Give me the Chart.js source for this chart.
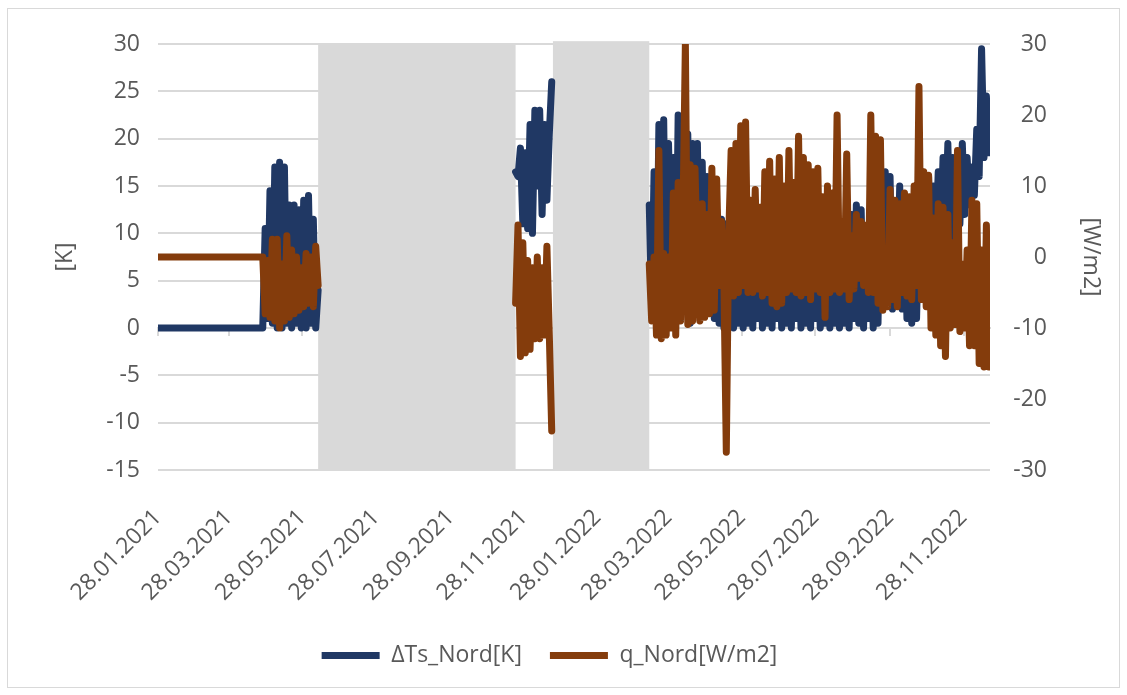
<!DOCTYPE html>
<html>
<head>
<meta charset="utf-8">
<script src="https://cdn.jsdelivr.net/npm/chart.js@4.4.0/dist/chart.umd.min.js"></script>
<style>
  html, body { margin: 0; padding: 0; background: #fff; }
  #wrap { position: relative; width: 1127px; height: 695px; }
  #frame { position: absolute; left: 7px; top: 8px; width: 1113px; height: 680px; border: 1px solid #d9d9d9; box-sizing: border-box; }
  #myChart { position: absolute; left: 0; top: 0; }
</style>
</head>
<body>
<div id="wrap"><div id="frame"></div><canvas id="myChart" width="1127" height="695"></canvas></div>
<script>
// days are counted from 28.01.2021
var X_MAX = 691;
var tickDates = ['28.01.2021', '28.03.2021', '28.05.2021', '28.07.2021', '28.09.2021', '28.11.2021',
                 '28.01.2022', '28.03.2022', '28.05.2022', '28.07.2022', '28.09.2022', '28.11.2022'];

// measured stretches: first day and spacing in days
var segStart = [0, 87, 297, 408];
var segStep = [87, 2, 2, 2];

var dtNord = [
  [0],
  [0, 10.5, 1, 14.5, 0.5, 17, 0, 17.5, 0, 17, 0.5, 13, 0, 13, 0.5, 12.5, 0, 13.5, 0, 14, 0.5, 11.5, 0, 4],
  [16.5, 16, 19, 11, 18.5, 10.5, 21.5, 10, 23, 15, 23, 12, 21.5, 13.5, 20.5, 26],
  [13, 2, 16.5, 1, 21.5, 3, 22, 1, 19.5, 8,
   18, 2, 22.5, 1, 21.5, 3, 20.5, 0.5, 19.5, 1.5,
   19.5, 2, 17.5, 1.5, 16, 2, 14.5, 1, 12.5, 0.5,
   11.5, 0, 11, 0.5, 9, 0, 10, 0.5, 12, 0,
   13.5, 0.5, 13, 0, 9, 1, 10, 0, 11, 0.5,
   8, 0, 10, 1, 9, 0, 11, 0.5, 8, 0,
   10, 1, 12, 0, 9, 0.5, 10, 0, 11, 1,
   9, 0, 8, 0.5, 10, 0, 11, 0.5, 9, 0,
   10, 0.5, 11, 0, 12, 1, 13, 0.5, 12.5, 0,
   10.5, 1, 9, 0, 10, 0.5, 14, 2.5, 16.5, 3,
   16, 2, 13, 2.5, 15, 2, 14, 1, 12, 0.5,
   13, 1, 11, 3, 14, 5, 16, 7, 15, 9,
   16.5, 10, 18, 11, 19.5, 9, 18, 12, 17.5, 11,
   19.5, 12, 18, 13, 17, 14, 21, 16, 29.5, 18,
   24.5, 18.5]
];

var qNord = [
  [0],
  [0, -8, -0.5, -8.5, 2.5, -9, 2.5, -10, -1, -9, 3, -8.5, 1, -8, 0, -7.5, -1.5, -7, 0.5, -6.5, 0, -7, 1.5, -4],
  [-6.5, 4.5, -14, 2, -13.5, -0.5, -13, -1.5, -11.5, 0, -11.5, -1.5, -11, 1.5, -11, -24.5],
  [-1, -9, 0, -11, 15, -11.5, 0.5, -11, 0, -10,
   9, -11, 10.5, -9, 6, 30, -9.5, 13, -9, 12.5,
   -1, -9, 7.5, -8.5, 6, -8, 12.5, -7.5, 11, -4,
   5, -3.5, -27.5, 3, 15, -5.5, 16, -5, 18.5, -4,
   19, -5, 8, -5, 9.5, -4.5, 7, -5.5, 12, -5,
   13.5, -6.5, 11, -7, 14, -6.5, 10, -5, 15, -4.5,
   10.5, -5, 17, -5.5, 14, -5, 13, -6, 12, -4.5,
   12.5, -5, 8.5, -8.5, 10, -5, 9, -4.5, 20, -5,
   5, -4.5, 14.5, -6, 3, -4.5, 6, -3, 5, -4,
   4.5, -5, 20, -5, 17, -6.5, 16.5, -7.5, -1, -7,
   9.5, -6, 8, -7, 7.5, -5, 9, -5.5, 8.5, -6,
   10, -4, 24, -6, 12, -7, 11.5, -10, 5.5, -11,
   7.5, -12.5, 7, -14, 6, -10, 2, -9.5, 15, -10.5,
   -1, -10, 1, -12.5, 8, -12.5, 7.5, -15, 1, -15.5,
   4.5, -15.5]
];

// periods without measurements (grey)
var gapFrom = [133, 328];
var gapTo = [297, 408];
var gapTop = [30, 30.3];

var GREY = '#595959';
var GRID = '#d9d9d9';
Chart.defaults.font.family = '"Open Sans", sans-serif';
Chart.defaults.font.size = 23;
Chart.defaults.color = GREY;

function dayOf(str) {
    var p = str.split('.');
    return (Date.UTC(+p[2], +p[1] - 1, +p[0]) - Date.UTC(2021, 0, 28)) / 86400000;
}

function buildPoints(segs) {
    var pts = [];
    for (var s = 0; s < segs.length; s++) {
        if (s > 0) {
            var prevEnd = segStart[s - 1] + segs[s - 1].length * segStep[s - 1];
            if (segStart[s] > prevEnd) pts.push({x: (prevEnd + segStart[s]) / 2, y: null});
        }
        for (var i = 0; i < segs[s].length; i++) {
            pts.push({x: segStart[s] + i * segStep[s], y: segs[s][i]});
        }
    }
    return pts;
}

function dateTicks(scale) {
    scale.ticks = tickDates.map(function(d) { return {value: dayOf(d)}; });
}

var gapPlugin = {
    id: 'gaps',
    beforeDatasetsDraw: function(chart) {
        var ctx = chart.ctx, x = chart.scales.x, y = chart.scales.y;
        ctx.save();
        ctx.fillStyle = GRID;
        for (var i = 0; i < gapFrom.length; i++) {
            var x0 = x.getPixelForValue(gapFrom[i]), x1 = x.getPixelForValue(gapTo[i]);
            var y0 = y.getPixelForValue(gapTop[i]), y1 = y.getPixelForValue(y.min);
            ctx.fillRect(x0, y0, x1 - x0, y1 - y0);
        }
        ctx.restore();
    }
};

var CHART = document.getElementById('myChart');
var myChart = new Chart(CHART, {
    type: 'line',
    data: {
        datasets: [{
            label: 'ΔTs_Nord[K]',
            data: buildPoints(dtNord),
            yAxisID: 'y',
            borderColor: '#203864',
            backgroundColor: '#203864',
            borderWidth: 7,
            borderJoinStyle: 'round',
            borderCapStyle: 'round',
            order: 2
        }, {
            label: 'q_Nord[W/m2]',
            data: buildPoints(qNord),
            yAxisID: 'y2',
            borderColor: '#843c0c',
            backgroundColor: '#843c0c',
            borderWidth: 7,
            borderJoinStyle: 'round',
            borderCapStyle: 'round',
            order: 1
        }]
    },
    options: {
        responsive: false,
        animation: false,
        spanGaps: false,
        elements: {
            point: { radius: 0 },
            line: { tension: 0 }
        },
        layout: { padding: { left: 52, right: 80, top: 44, bottom: 18 } },
        plugins: {
            tooltip: { enabled: false },
            legend: {
                position: 'bottom',
                labels: {
                    usePointStyle: true,
                    pointStyle: 'line',
                    pointStyleWidth: 58,
                    padding: 28,
                    color: GREY,
                    sort: function(a, b) { return a.datasetIndex - b.datasetIndex; }
                }
            }
        },
        scales: {
            x: {
                type: 'linear',
                min: 0,
                max: X_MAX,
                afterBuildTicks: dateTicks,
                afterFit: function(s) { s.height = 146; },
                ticks: {
                    autoSkip: false,
                    minRotation: 45,
                    maxRotation: 45,
                    padding: 26,
                    callback: function(v, i) { return tickDates[i]; }
                },
                grid: { display: false },
                border: { display: false }
            },
            x2: {
                type: 'linear',
                position: { y: 0 },
                min: 0,
                max: X_MAX,
                afterBuildTicks: dateTicks,
                ticks: { display: false },
                grid: { drawOnChartArea: false, drawTicks: true, tickLength: 7, color: GRID, lineWidth: 2 },
                border: { display: true, color: GRID, width: 2 }
            },
            y: {
                position: 'left',
                min: -15,
                max: 30,
                afterFit: function(s) { s.width = 106; },
                ticks: { stepSize: 5, padding: 18 },
                grid: { color: GRID, lineWidth: 2, drawTicks: false },
                border: { display: false },
                title: { display: true, text: '[K]', padding: 0 }
            },
            y2: {
                position: 'right',
                min: -30,
                max: 30,
                afterFit: function(s) { s.width = 57; },
                ticks: { stepSize: 10, crossAlign: 'far' },
                grid: { drawOnChartArea: false, drawTicks: false },
                border: { display: false },
                title: { display: true, text: '[W/m2]', padding: { top: -57, bottom: 0 } }
            }
        }
    },
    plugins: [gapPlugin]
});
</script>
</body>
</html>
